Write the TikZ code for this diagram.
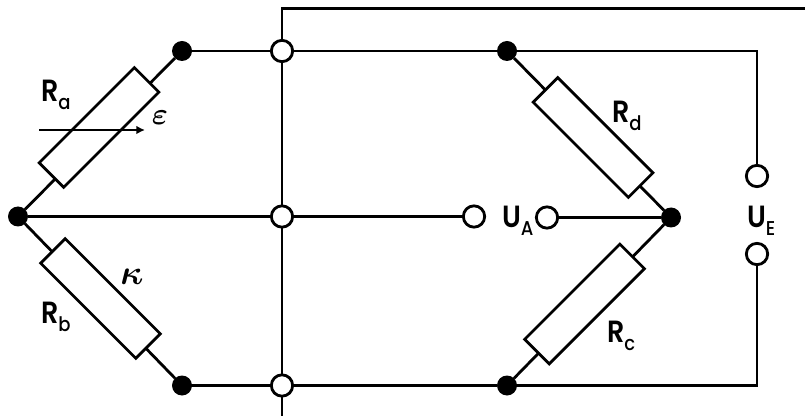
\documentclass[tikz,border=0pt]{standalone}
\usepackage{fontspec}
\setmainfont{Poppins SemiBold}[FakeStretch=0.88]
\newfontfamily\subfont{Poppins Medium}[FakeStretch=0.9]
\usetikzlibrary{backgrounds,arrows.meta}
\font\epsfont=cmmib10 at 23pt
\font\kapfont=cmmib10 at 26pt
\newcommand{\lab}[2]{\fontsize{23}{24}\selectfont #1\raisebox{-6pt}{\subfont\fontsize{15}{18}\selectfont #2}}
\tikzset{
  x=0.75pt,y=-0.75pt,
  wire/.style={line width=2.1pt,line join=miter},
  dot/.style={circle,fill=black,draw=none,minimum size=15pt,inner sep=0pt,outer sep=0pt},
  term/.style={circle,fill=white,draw=black,line width=2.1pt,minimum size=16pt,inner sep=0pt,outer sep=0pt},
  res/.style={rectangle,fill=white,draw=black,line width=2.1pt,minimum width=101pt,minimum height=26pt,inner sep=0pt,outer sep=0pt},
  lbl/.style={anchor=base west,inner sep=0pt,outer sep=0pt,text=black}
}
\begin{document}
\begin{tikzpicture}
\useasboundingbox (0,0) rectangle (805,416);
\node[dot] (L) at (18,216.5) {};
\node[dot] (A) at (182,51) {};
\node[dot] (B) at (182,385.5) {};
\node[dot] (D) at (507,51) {};
\node[dot] (E) at (507,385.5) {};
\node[dot] (F) at (671,217.5) {};
\node[term] (C1) at (282,51) {};
\node[term] (C2) at (282,216.5) {};
\node[term] (C3) at (282,385.5) {};
\node[term] (O1) at (474,216.5) {};
\node[term] (O2) at (547,217.5) {};
\node[term] (T1) at (757,176) {};
\node[term] (T2) at (757,254) {};
\node[res,rotate=45] (Ra) at (99,127.5) {};
\node[res,rotate=-45] (Rb) at (100.5,298.5) {};
\node[res,rotate=-45] (Rd) at (593,137.5) {};
\node[res,rotate=45] (Rc) at (584.5,304) {};
\coordinate (topR) at (805,8.5);
\coordinate (topL) at (282,8.5);
\coordinate (botV) at (282,416);
\coordinate (arrS) at (39,130);
\coordinate (arrE) at (145,130);
\begin{scope}[on background layer]
\draw[wire] (topR) -- (topL) -- (botV);
\draw[wire] (L) -- (A);
\draw[wire] (L) -- (B);
\draw[wire] (A) -- (C1) -- (D);
\draw[wire] (B) -- (C3) -- (E);
\draw[wire] (L) -- (C2) -- (O1);
\draw[wire] (D) -- (F);
\draw[wire] (E) -- (F);
\draw[wire] (O2) -- (F);
\draw[wire] (D) -| (T1);
\draw[wire] (E) -| (T2);
\end{scope}
\draw[line width=1.8pt,-{Latex[length=6.5pt,width=6.5pt]}] (arrS) -- (arrE);
\node[lbl] (la) at (41,102) {\lab{R}{a}};
\node[lbl] (lb) at (41,323) {\lab{R}{b}};
\node[lbl] (ld) at (612,123) {\lab{R}{d}};
\node[lbl] (lc) at (607,342) {\lab{R}{c}};
\node[lbl] (lA) at (502,228) {\lab{U}{A}};
\node[lbl] (lE) at (747,228) {\lab{U}{E}};
\node[inner sep=0pt] (eps) at (160,118) {\epsfont\char34};
\node[inner sep=0pt] (kap) at (132,277) {\kapfont\char20};
\end{tikzpicture}
\end{document}
